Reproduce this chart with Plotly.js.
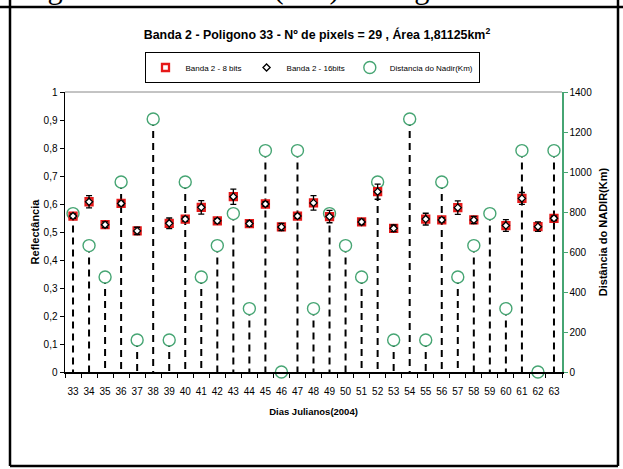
<!DOCTYPE html>
<html>
<head>
<meta charset="utf-8">
<script src="https://cdn.plot.ly/plotly-3.0.1.min.js"></script>
<style>html,body{margin:0;padding:0;background:#fff;}#chart{width:623px;height:469px;}</style>
</head>
<body>
<div id="chart"></div>
<script>
// ---- data ----
const dias = ["33","34","35","36","37","38","39","40","41","42","43","44","45","46","47","48","49","50","51","52","53","54","55","56","57","58","59","60","61","62","63"];
const banda8bits = [0.557,0.608,0.526,0.602,0.504,null,0.531,0.546,0.588,0.540,0.626,0.530,0.600,0.518,0.557,0.604,0.555,null,0.536,0.644,0.513,null,0.546,0.543,0.587,0.543,null,0.523,0.620,0.519,0.549];
const banda16bits = [0.557,0.608,0.526,0.602,0.504,null,0.531,0.546,0.588,0.540,0.626,0.530,0.600,0.518,0.557,0.604,0.555,null,0.536,0.644,0.513,null,0.546,0.543,0.587,0.543,null,0.523,0.620,0.519,0.549];
const desvio16bits = [0.008,0.022,0.010,0.008,0.013,null,0.019,0.008,0.024,0.008,0.027,0.010,0.008,0.013,0.008,0.026,0.022,null,0.010,0.027,0.012,null,0.021,0.008,0.024,0.013,null,0.021,0.021,0.017,0.008];
const distNadir = [792,632,475,950,160,1265,160,950,475,632,792,317,1107,0,1107,317,792,632,475,950,160,1265,160,950,475,632,792,317,1107,0,1107];

const serieNames = ["Banda 2 - 8 bits","Banda 2 - 16bits","Distancia do Nadir(Km)"];
const chartTitle = "Banda 2 - Poligono 33 - Nº de pixels = 29 , Área 1,81125km<sup>2</sup>";
const xTitle = "Dias Julianos(2004)";
const yLeftTitle = "Reflectância";
const yRightTitle = "Distância do NADIR(Km)";
const cutHeading = "Figura 33 - Banda 2 (TM) - Polígono 33";

// ---- drop lines built from the distance data ----
const dropX = [], dropY = [];
dias.forEach((d, i) => {
  if (distNadir[i] > 0) { dropX.push(d, d, null); dropY.push(distNadir[i], 0, null); }
});

const green = "rgb(70,165,115)";
const sans = "Liberation Sans, Arial, sans-serif";

// plot area in pixels: x 65..562, y 92..372
const W = 623, H = 469;
const L = 65, R = 562, T = 92, B = 372;
const px = x => (x - L) / (R - L);
const py = y => (B - y) / (B - T);

const traces = [
  {x: dropX, y: dropY, yaxis: "y", mode: "lines", showlegend: false, hoverinfo: "skip",
   line: {color: "#000", width: 2, dash: "7px,5px"}},
  {x: dias, y: distNadir, yaxis: "y", mode: "markers", name: serieNames[2], legendrank: 3, cliponaxis: false,
   marker: {symbol: "circle", size: 12, color: "#fff", line: {color: green, width: 1.4}}},
  {x: dias, y: banda8bits, yaxis: "y2", mode: "markers", name: serieNames[0], legendrank: 1,
   marker: {symbol: "square-open", size: 7, color: "rgb(230,25,25)", line: {color: "rgb(230,25,25)", width: 2.3}}},
  {x: dias, y: banda16bits, yaxis: "y2", mode: "markers", name: serieNames[1], legendrank: 2,
   error_y: {type: "data", array: desvio16bits, visible: true, color: "#000", thickness: 1.3, width: 3},
   marker: {symbol: "diamond", size: 5.5, color: "#fff", line: {color: "#000", width: 1.3}}}
];

const layout = {
  width: W, height: H,
  margin: {l: L, r: W - R, t: T, b: H - B, autoexpand: false},
  paper_bgcolor: "#fff", plot_bgcolor: "#fff",
  separators: ", ",
  font: {family: sans, size: 10, color: "#000"},
  title: {text: chartTitle, font: {family: sans, size: 12.4, weight: "bold", color: "#000"},
          x: 317 / W, xanchor: "center", y: 1 - 35 / H, yanchor: "middle"},
  showlegend: true,
  legend: {orientation: "h", xref: "container", x: 312 / W, xanchor: "center",
           yref: "container", y: 1 - 52 / H, yanchor: "top",
           bordercolor: "#000", borderwidth: 1, bgcolor: "#fff",
           font: {family: sans, size: 8, color: "#000"}, itemwidth: 30, tracegroupgap: 0},
  xaxis: {type: "category", categoryorder: "array", categoryarray: dias, range: [-0.5, dias.length - 0.5],
          showline: true, linecolor: "#000", linewidth: 1.5, ticks: "outside", tickson: "boundaries",
          ticklen: 4, tickcolor: "#000", showgrid: false, zeroline: false, ticklabelstandoff: 9,
          tickangle: 0, tickfont: {family: sans, size: 10},
          title: {text: xTitle, font: {family: sans, size: 9.5, weight: "bold"}, standoff: 13}},
  yaxis: {side: "right", range: [0, 1400], dtick: 200, showline: true, linecolor: green, linewidth: 1.5,
          ticks: "outside", ticklen: 4, tickcolor: green, showgrid: false, zeroline: false,
          tickfont: {family: sans, size: 10},
          title: {text: yRightTitle, font: {family: sans, size: 11, weight: "bold"}, standoff: 8}},
  yaxis2: {side: "left", overlaying: "y", range: [0, 1], dtick: 0.1, showline: true, linecolor: "#000", linewidth: 1.5,
           ticks: "outside", ticklen: 4, tickcolor: "#000", showgrid: false, zeroline: false,
           tickfont: {family: sans, size: 10},
           title: {text: yLeftTitle, font: {family: sans, size: 11, weight: "bold"}, standoff: 1}},
  shapes: [
    {type: "line", xref: "paper", yref: "paper", x0: 0, x1: 1, y0: 1, y1: 1, line: {color: "#888", width: 1}},
    {type: "line", xref: "paper", yref: "paper", x0: px(0), x1: px(W), y0: py(7), y1: py(7), line: {color: "#000", width: 2.5}},
    {type: "line", xref: "paper", yref: "paper", x0: px(10), x1: px(10), y0: py(0), y1: py(466), line: {color: "#000", width: 2.5}},
    {type: "line", xref: "paper", yref: "paper", x0: px(618), x1: px(618), y0: py(0), y1: py(466), line: {color: "#000", width: 2.5}},
    {type: "line", xref: "paper", yref: "paper", x0: px(10), x1: px(618), y0: py(466), y1: py(466), line: {color: "#000", width: 2.5}}
  ],
  annotations: [
    {text: cutHeading, xref: "paper", yref: "paper", x: px(20), xanchor: "left", y: py(7), yanchor: "bottom",
     showarrow: false, font: {family: "Liberation Serif, Times New Roman, serif", size: 30.5, color: "#000"}}
  ]
};

Plotly.newPlot("chart", traces, layout, {displayModeBar: false, staticPlot: true});
</script>
</body>
</html>
